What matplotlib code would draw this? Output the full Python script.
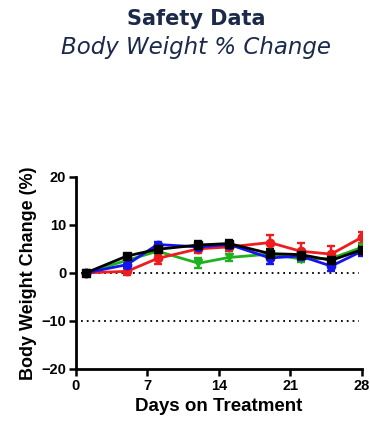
import matplotlib
matplotlib.use('Agg')
import matplotlib.pyplot as plt

# data
days = [1, 5, 8, 12, 15, 19, 22, 25, 28]
red = [0, 0.3, 3.0, 5.0, 5.4, 6.3, 4.5, 3.9, 7.4]
red_err = [0, 0.8, 1.2, 0.8, 0.8, 1.5, 1.8, 1.6, 1.2]
green = [0, 2.6, 4.5, 2.0, 3.2, 3.9, 2.9, 3.0, 5.3]
green_err = [0, 0.6, 0.7, 1.0, 0.8, 0.7, 0.7, 0.6, 0.8]
blue = [0, 1.7, 5.9, 5.4, 5.9, 3.1, 3.5, 1.4, 4.5]
blue_err = [0, 0.6, 0.5, 0.8, 0.8, 1.3, 0.8, 1.0, 0.9]
black = [0, 3.5, 4.9, 5.8, 6.1, 4.0, 3.8, 2.6, 4.8]
black_err = [0, 0.5, 0.6, 0.9, 0.8, 0.9, 0.9, 0.9, 0.8]

xticks = [0, 7, 14, 21, 28]
yticks = [-20, -10, 0, 10, 20]
ref_lines = [0, -10]

series = [
    (green, green_err, '#1fb21f', 'v'),
    (red, red_err, '#ee1c1c', 'o'),
    (blue, blue_err, '#1414f0', 'o'),
    (black, black_err, 'black', 's'),
]

fig = plt.figure(figsize=(3.7, 4.22), dpi=100)
navy = '#1b2a4a'
fig.text(0.53, 0.955, 'Safety Data', ha='center', va='center', fontsize=15,
         fontweight='bold', family='DejaVu Sans', color=navy)
fig.text(0.53, 0.888, 'Body Weight % Change', ha='center', va='center', fontsize=16.5,
         style='italic', family='DejaVu Sans', color=navy)

ax = fig.add_axes([0.205, 0.126, 0.773, 0.455])

for y in ref_lines:
    ax.hlines(y, 0.5, 27.7, colors='black', linestyles=(0, (1, 2.2)), linewidth=1.3)

for vals, err, col, mk in series:
    ax.errorbar(days, vals, yerr=err, color=col, marker=mk, markersize=6,
                linewidth=2, elinewidth=1.7, capsize=2.8, capthick=1.7)

ax.set_xlim(0, 28)
ax.set_ylim(-20, 20)
ax.set_xticks(xticks)
ax.set_yticks(yticks)
ax.spines['top'].set_visible(False)
ax.spines['right'].set_visible(False)
ax.spines['left'].set_linewidth(2)
ax.spines['bottom'].set_linewidth(2)
ax.tick_params(width=1.8, length=5, labelsize=10.5, pad=2)
for lab in ax.get_xticklabels() + ax.get_yticklabels():
    lab.set_fontweight('bold')
    lab.set_family('Liberation Sans')

ax.set_xlabel('Days on Treatment', fontsize=13.5, fontweight='bold', family='Liberation Sans', labelpad=4)
ax.set_ylabel('Body Weight Change (%)', fontsize=13, fontweight='bold', family='Liberation Sans', labelpad=3)

fig.savefig('out.png', dpi=100)
